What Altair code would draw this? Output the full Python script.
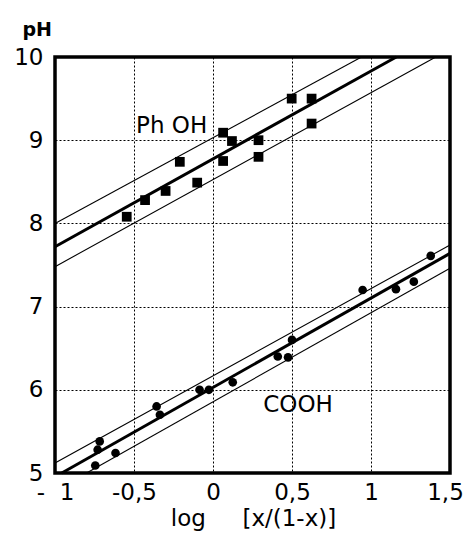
import altair as alt
import pandas as pd

# ---- data ----
PHOH_X = [-0.546, -0.43, -0.30, -0.21, -0.10, 0.064, 0.064, 0.12, 0.288, 0.288, 0.498, 0.624, 0.624]
PHOH_Y = [8.08, 8.28, 8.39, 8.74, 8.49, 9.09, 8.75, 8.99, 9.00, 8.80, 9.50, 9.50, 9.20]

COOH_X = [-0.745, -0.73, -0.717, -0.617, -0.357, -0.336, -0.085, -0.026, 0.125, 0.41, 0.475, 0.50, 0.947, 1.158, 1.271, 1.378]
COOH_Y = [5.09, 5.28, 5.38, 5.24, 5.80, 5.70, 6.00, 6.00, 6.09, 6.40, 6.39, 6.60, 7.20, 7.21, 7.30, 7.61]

# fitted lines (end points)
LINE_NAMES = ["phoh_mid", "phoh_up", "phoh_lo", "cooh_mid", "cooh_up", "cooh_lo"]
LINE_KIND = ["thick", "thin", "thin", "thick", "thin", "thin"]
LINE_X0 = [-1.0, -1.0, -1.0, -0.957, -1.0, -0.80]
LINE_Y0 = [7.72, 8.00, 7.48, 5.00, 5.12, 5.00]
LINE_X1 = [1.16, 0.94, 1.41, 1.50, 1.50, 1.50]
LINE_Y1 = [10.0, 10.0, 10.0, 7.64, 7.74, 7.46]

X_TICKS = [-1, -0.5, 0, 0.5, 1, 1.5]
X_TICK_LABELS = ["-\u00a0\u00a01", "-0,5", "0", "0,5", "1", "1,5"]
Y_TICKS = [5, 6, 7, 8, 9, 10]

LABEL_TEXT = ["Ph OH", "COOH"]
LABEL_X = [-0.487, 0.318]
LABEL_Y = [9.09, 5.73]

X_TITLE = "log\u00a0\u00a0\u00a0\u00a0\u00a0[x/(1-x)]"
Y_TITLE = "pH"

FONT = "DejaVu Sans"

# ---- tables ----
phoh = pd.DataFrame({"x": PHOH_X, "y": PHOH_Y})
cooh = pd.DataFrame({"x": COOH_X, "y": COOH_Y})
rows = []
for n, k, x0, y0, x1, y1 in zip(LINE_NAMES, LINE_KIND, LINE_X0, LINE_Y0, LINE_X1, LINE_Y1):
    rows.append({"line": n, "kind": k, "x": x0, "y": y0, "o": 0})
    rows.append({"line": n, "kind": k, "x": x1, "y": y1, "o": 1})
lines = pd.DataFrame(rows)
labels = pd.DataFrame({"t": LABEL_TEXT, "x": LABEL_X, "y": LABEL_Y})

label_expr = ""
for v, s in zip(X_TICKS, X_TICK_LABELS):
    label_expr += f"datum.value == {v} ? '{s}' : "
label_expr += "''"

xscale = alt.Scale(domain=[-1, 1.5], nice=False, zero=False)
yscale = alt.Scale(domain=[5, 10], nice=False, zero=False)

xenc = alt.X("x:Q", scale=xscale, axis=alt.Axis(
    values=X_TICKS, labelExpr=label_expr, title=X_TITLE,
    grid=True, gridColor="black", gridDash=[2, 2], gridWidth=1, gridOpacity=1,
    ticks=False, domain=False, labelFontSize=23, labelPadding=8,
    labelOffset={"condition": {"test": f"datum.value == {X_TICKS[-1]}", "value": -5}, "value": 0},
    labelFont=FONT, labelColor="black", titleFont=FONT, titleFontSize=23,
    titleFontWeight="normal", titleColor="black",
    titleX=198, titleY=52, titleBaseline="alphabetic", titleAlign="center",
    labelFlush=False, labelOverlap=False))
yenc = alt.Y("y:Q", scale=yscale, axis=alt.Axis(
    values=Y_TICKS, format="d", grid=True, gridColor="black", gridDash=[2, 2],
    gridWidth=1, gridOpacity=1, ticks=False, domain=False, labelFontSize=23,
    labelPadding=12, labelFont=FONT, labelColor="black", title=Y_TITLE,
    titleAngle=0, titleAlign="left", titleBaseline="alphabetic",
    titleX=-33, titleY=-22, titleFont=FONT, titleFontSize=19,
    titleFontWeight="bold", titleColor="black",
    labelFlush=False, labelOverlap=False))

base_lines = alt.Chart(lines)
thin = base_lines.transform_filter(alt.datum.kind == "thin").mark_line(
    color="black", strokeWidth=1.1).encode(x=xenc, y=yenc, detail="line:N", order="o:Q")
thick = base_lines.transform_filter(alt.datum.kind == "thick").mark_line(
    color="black", strokeWidth=3).encode(x="x:Q", y="y:Q", detail="line:N", order="o:Q")

sq = alt.Chart(phoh).mark_square(color="black", opacity=1, size=95).encode(x="x:Q", y="y:Q")
ci = alt.Chart(cooh).mark_circle(color="black", opacity=1, size=75).encode(x="x:Q", y="y:Q")

txt = alt.Chart(labels).mark_text(align="left", baseline="alphabetic", font=FONT,
                                  fontSize=23, color="black").encode(
    x="x:Q", y="y:Q", text="t:N")

chart = alt.layer(thin, thick, sq, ci, txt).properties(
    width=395, height=416,
    autosize=alt.AutoSizeParams(type="none"),
    padding={"left": 47, "top": 49, "right": 14, "bottom": 58},
).configure_view(stroke="black", strokeWidth=3.5)

chart.save("out.html", embed_options={"renderer": "svg", "actions": False})
